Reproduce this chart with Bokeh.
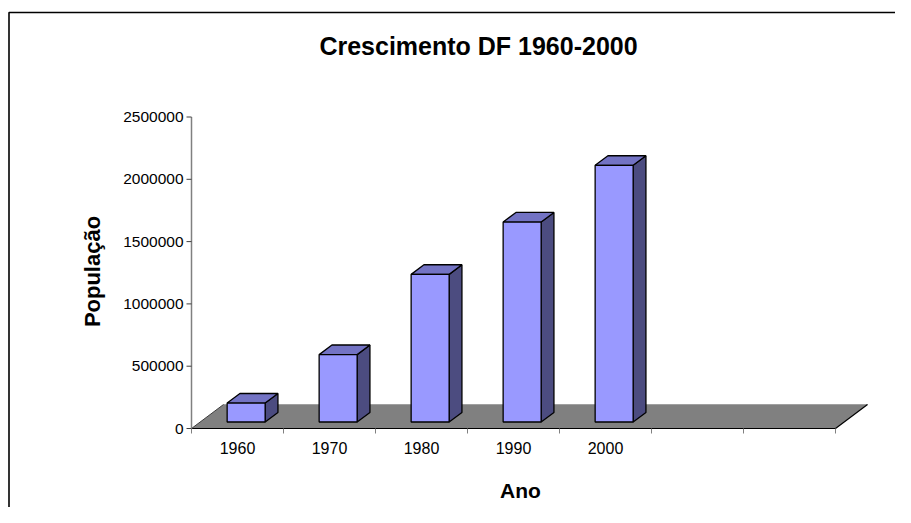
import math
from bokeh.plotting import figure
from bokeh.models import Range1d
from bokeh.core.properties import value
from bokeh.embed import file_html
from bokeh.resources import INLINE

# ---------------- data ----------------
chart_title = "Crescimento DF 1960-2000"
x_label = "Ano"
y_label = "População"
years = ["1960", "1970", "1980", "1990", "2000"]
populacao = [152000, 541000, 1185000, 1605000, 2060000]
y_ticks = [0, 500000, 1000000, 1500000, 2000000, 2500000]
y_tick_labels = ["0", "500000", "1000000", "1500000", "2000000", "2500000"]
n_slots = 7  # category slots on the floor (two left empty)

# ---------------- geometry (picture pixels) ----------------
W, H = 895, 507
OX, OY = 0, 0                 # canvas origin in picture coordinates
AX_X, AX_Y0 = 191, 428        # axis origin
SLOT_PX = 92.0                # width of one category slot
PX_PER_500K = 62.3
KY = 500000.0 / PX_PER_500K   # value units per pixel

def dx(px):   # pixel distance -> x data units
    return px / SLOT_PX

def dy(px):   # pixel distance -> y data units
    return px * KY

def wx(X):    # picture x -> data x
    return (X - AX_X) / SLOT_PX

def wy(Y):    # picture y -> data y
    return (AX_Y0 - Y) * KY

DEPTH_X, DEPTH_Y = dx(32), dy(24)
F0, F1 = 0.27, 0.67
BAR_W = 38 / SLOT_PX

FONT = value("Liberation Sans")

p = figure(width=W, height=H, output_backend="svg", toolbar_location=None,
           x_range=Range1d(wx(OX), wx(OX + W)), y_range=Range1d(wy(OY + H), wy(OY)),
           x_axis_location=None, y_axis_location=None, min_border=0)
p.min_border_left = p.min_border_right = p.min_border_top = p.min_border_bottom = 0
p.grid.visible = False
p.outline_line_color = None
p.background_fill_color = "white"
p.border_fill_color = "white"

# outer chart border (left and top visible)
p.line([wx(8.5), wx(8.5), wx(940)], [wy(560), wy(12), wy(12)], line_color="black", line_width=1.6)

# floor
p.patch([0, n_slots, n_slots + DEPTH_X, DEPTH_X], [0, 0, DEPTH_Y, DEPTH_Y],
        fill_color="#808080", line_color=None)
p.line([DEPTH_X, n_slots + DEPTH_X], [DEPTH_Y, DEPTH_Y], line_color="#a0a0a0", line_width=1)
p.line([0, n_slots, n_slots + DEPTH_X], [0, 0, DEPTH_Y], line_color="black", line_width=1.2)
p.line([0, DEPTH_X], [0, DEPTH_Y], line_color="#404040", line_width=1)

# bars
front_x, front_y, top_x, top_y, side_x, side_y = [], [], [], [], [], []
s0x, s0y = F0 * DEPTH_X, F0 * DEPTH_Y
s1x, s1y = F1 * DEPTH_X, F1 * DEPTH_Y
for i, v in enumerate(populacao):
    x0 = i + 0.5 - BAR_W / 2
    x1 = x0 + BAR_W
    front_x.append([x0 + s0x, x1 + s0x, x1 + s0x, x0 + s0x])
    front_y.append([s0y, s0y, s0y + v, s0y + v])
    top_x.append([x0 + s0x, x1 + s0x, x1 + s1x, x0 + s1x])
    top_y.append([s0y + v, s0y + v, s1y + v, s1y + v])
    side_x.append([x1 + s0x, x1 + s1x, x1 + s1x, x1 + s0x])
    side_y.append([s0y, s1y, s1y + v, s0y + v])

p.patches(side_x, side_y, fill_color="#4c4c80", line_color="black", line_width=1.3)
p.patches(top_x, top_y, fill_color="#7373c4", line_color="black", line_width=1.3)
p.patches(front_x, front_y, fill_color="#9999ff", line_color="black", line_width=1.3)

# value axis
p.line([0, 0], [0, y_ticks[-1]], line_color="#808080", line_width=1.5)
p.segment(x0=[-dx(5)] * len(y_ticks), y0=y_ticks, x1=[0] * len(y_ticks), y1=y_ticks,
          line_color="#404040", line_width=1)
p.text(x=[-dx(8)] * len(y_ticks), y=y_ticks, text=y_tick_labels,
       text_font=FONT, text_font_size="15.5px", text_align="right",
       text_baseline="middle", text_color="black")

# category axis ticks and labels
tick_x = list(range(n_slots + 1))
p.segment(x0=tick_x, y0=[0] * len(tick_x), x1=tick_x, y1=[-dy(5)] * len(tick_x),
          line_color="#808080", line_width=1)
p.text(x=[i + 0.5 for i in range(len(years))], y=[-dy(19)] * len(years), text=years,
       text_font=FONT, text_font_size="16px", text_align="center",
       text_baseline="middle", text_color="black")

# titles
p.text(x=[wx(478)], y=[wy(45)], text=[chart_title], text_font=FONT,
       text_font_size="25px", text_font_style="bold", text_align="center",
       text_baseline="middle", text_color="black")
p.text(x=[wx(92)], y=[wy(271)], text=[y_label], text_font=FONT, angle=math.pi / 2,
       text_font_size="22px", text_font_style="bold", text_align="center",
       text_baseline="middle", text_color="black")
p.text(x=[wx(520)], y=[wy(490)], text=[x_label], text_font=FONT,
       text_font_size="21px", text_font_style="bold", text_align="center",
       text_baseline="middle", text_color="black")

open("out.html", "w").write(file_html(p, INLINE))
